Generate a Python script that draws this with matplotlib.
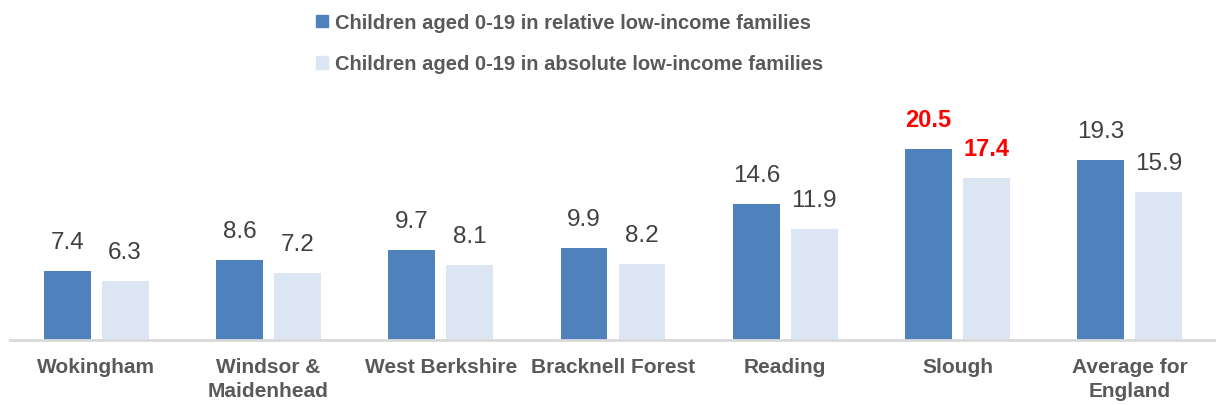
import numpy as np
import matplotlib.pyplot as plt
from matplotlib.patches import Patch

plt.rcParams['font.family'] = ['Liberation Sans', 'DejaVu Sans']

areas = ['Wokingham', 'Windsor &\nMaidenhead', 'West Berkshire', 'Bracknell Forest',
         'Reading', 'Slough', 'Average for\nEngland']
relative = [7.4, 8.6, 9.7, 9.9, 14.6, 20.5, 19.3]
absolute = [6.3, 7.2, 8.1, 8.2, 11.9, 17.4, 15.9]
series_names = ['Children aged 0-19 in relative low-income families',
                'Children aged 0-19 in absolute low-income families']
highlight = 'Slough'

dark = '#4F81BD'
light = '#DCE6F2'
grey = '#595959'

fig = plt.figure(figsize=(12.16, 4.06), dpi=100)
ax = fig.add_axes([10 / 1216, 65 / 406, 1206 / 1216, 241 / 406])

x = np.arange(len(areas))
w = 0.272
off = 0.168
b1 = ax.bar(x - off, relative, w, color=dark)
b2 = ax.bar(x + off, absolute, w, color=light)

for bars, vals in ((b1, relative), (b2, absolute)):
    for i, (b, v) in enumerate(zip(bars, vals)):
        hl = areas[i] == highlight
        ax.annotate(f'{v:.1f}', (b.get_x() + b.get_width() / 2, v),
                    xytext=(0, 13), textcoords='offset points',
                    ha='center', va='bottom', fontsize=17.5 if not hl else 17,
                    fontweight='bold' if hl else 'normal',
                    color='#FF0000' if hl else '#404040')

ax.set_xlim(-0.5, 6.5)
ax.set_ylim(0, 25.9)
ax.set_xticks(x)
ax.set_xticklabels(areas, fontsize=15, fontweight='bold', color=grey, linespacing=1.35)
ax.tick_params(axis='x', length=0, pad=12)
ax.set_yticks([])
for s in ['top', 'right', 'left']:
    ax.spines[s].set_visible(False)
ax.spines['bottom'].set_color('#D9D9D9')
ax.spines['bottom'].set_linewidth(2)

handles = [Patch(color=dark), Patch(color=light)]
leg = fig.legend(handles, series_names, loc='upper left', bbox_to_anchor=(298 / 1216, 1.01),
                 frameon=False, handlelength=0.6, handleheight=0.6, handletextpad=0.35,
                 labelspacing=1.1, prop={'size': 14.5, 'weight': 'bold'})
for t in leg.get_texts():
    t.set_color(grey)

fig.savefig('out.png', dpi=100)
